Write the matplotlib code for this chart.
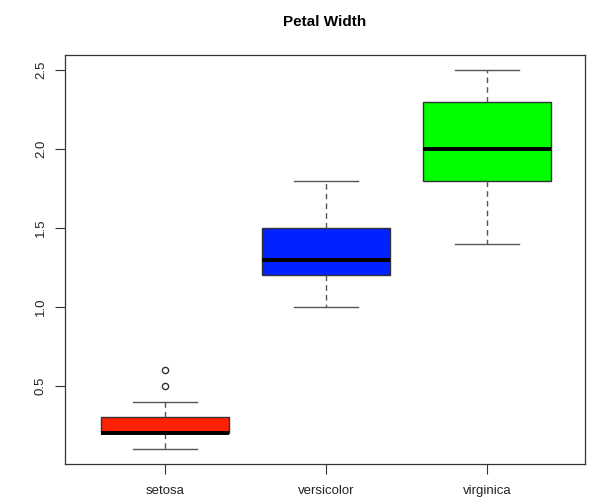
import matplotlib
matplotlib.use('Agg')
import matplotlib.pyplot as plt

plt.rcParams['font.family'] = ['Liberation Sans', 'DejaVu Sans']

# iris petal width, five-number summaries per species
species = ['setosa', 'versicolor', 'virginica']
lower_whisker = [0.1, 1.0, 1.4]
q1 = [0.2, 1.2, 1.8]
medians = [0.2, 1.3, 2.0]
q3 = [0.3, 1.5, 2.3]
upper_whisker = [0.4, 1.8, 2.5]
outliers = [[0.5, 0.6], [], []]
box_colors = ['#FF2200', '#0022FF', '#00FF00']
yticks = [0.5, 1.0, 1.5, 2.0, 2.5]

stats = []
for i, name in enumerate(species):
    stats.append({'label': name, 'whislo': lower_whisker[i], 'q1': q1[i],
                  'med': medians[i], 'q3': q3[i], 'whishi': upper_whisker[i],
                  'fliers': outliers[i]})

fig = plt.figure(figsize=(5.97, 4.99), dpi=100)
ax = fig.add_axes([65 / 597, 1 - 464 / 499, 520 / 597, 409 / 499])

bp = ax.bxp(stats, positions=[1, 2, 3], widths=0.8, patch_artist=True,
            boxprops=dict(edgecolor='#333333', linewidth=1),
            whiskerprops=dict(color='#555555', linestyle=(0, (4, 3)), linewidth=1),
            capprops=dict(color='#555555', linewidth=1),
            medianprops=dict(color='black', linewidth=2.8, solid_capstyle='butt'),
            flierprops=dict(marker='o', markerfacecolor='none', markeredgecolor='#333333',
                            markersize=4.5, markeredgewidth=1))
for patch, c in zip(bp['boxes'], box_colors):
    patch.set_facecolor(c)
for cap in bp['caps']:
    x0, x1 = cap.get_xdata()
    mid = (x0 + x1) / 2
    cap.set_xdata([mid - 0.2, mid + 0.2])

ax.set_xlim(1 - 100 / 161, 3 + 98 / 161)
ax.set_ylim(0.004, 2.596)
ax.set_yticks(yticks)
ax.set_yticklabels([f'{v:.1f}' for v in yticks], rotation=90, va='center')
ax.tick_params(axis='both', length=7, width=0.8, color='#333333', labelsize=9.5,
               labelcolor='#222222')
ax.tick_params(axis='x', pad=8)
ax.tick_params(axis='y', pad=6)
for s in ax.spines.values():
    s.set_color('#333333')
    s.set_linewidth(0.9)

fig.text((65 + 585) / 2 / 597, 1 - 22 / 499, 'Petal Width', ha='center', va='center',
         fontsize=11, fontweight='bold')

fig.savefig('out.png', dpi=100)
